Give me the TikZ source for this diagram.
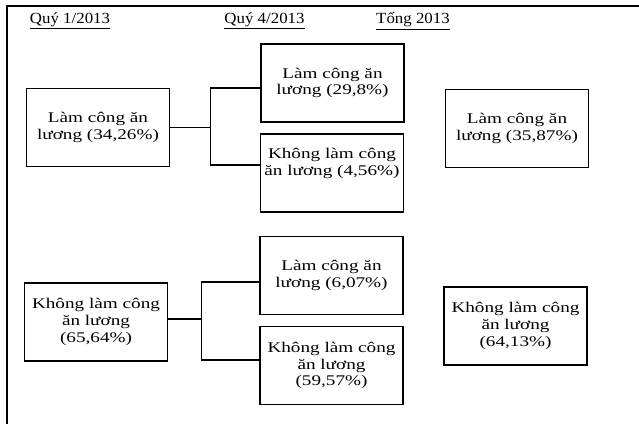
\documentclass[tikz,border=0pt]{standalone}
\usepackage{fontspec}
\setmainfont{Liberation Serif}[FakeStretch=1.3]
\newfontfamily\headfont{Liberation Serif}[FakeStretch=1.09]
\usetikzlibrary{calc}

\begin{document}
\begin{tikzpicture}[x=0.025cm, y=-0.025cm,
    box/.style={draw, line width=0.8pt, minimum width=3.575cm, minimum height=1.95cm,
        align=center, inner sep=1pt, font=\fontsize{10.5}{12}\selectfont},
    head/.style={font=\headfont\fontsize{11}{12}\selectfont},
    link/.style={line width=0.8pt}]
    \useasboundingbox (0,0) rectangle (639,424);
    % frame
    \draw[line width=1pt] (639,6) -- (7,6) -- (7,424);
    % headers
    \node[head] (h1) at (70,21) {\underline{Quý 1/2013}};
    \node[head] (h4) at (264.5,21) {\underline{Quý 4/2013}};
    \node[head] (ht) at (413,21) {\underline{Tổng 2013}};
    % upper group
    \node[box] (A1) at (98,127.5) {Làm công ăn\\lương (34,26\%)};
    \node[box] (B1) at (332.5,83) {Làm công ăn\\lương (29,8\%)};
    \node[box] (B2) at (332,173) {Không làm công\\ăn lương (4,56\%)\\\strut};
    \node[box] (C1) at (517,128.5) {Làm công ăn\\lương (35,87\%)};
    \draw[link] (A1.east) -- ++(40,0) coordinate (j1);
    \draw[link] ($(B1.west)+(0,5)$) -| (j1) |- ($(B2.west)+(0,-8)$);
    % lower group
    \node[box] (A2) at (96,322) {Không làm công\\ăn lương\\(65,64\%)};
    \node[box] (B3) at (331.5,275.5) {Làm công ăn\\lương (6,07\%)};
    \node[box] (B4) at (331.5,365.5) {Không làm công\\ăn lương\\(59,57\%)};
    \node[box] (C2) at (515.5,326) {Không làm công\\ăn lương\\(64,13\%)};
    \draw[link] ($(A2.east)+(0,-3)$) -- ++(33,0) coordinate (j2);
    \draw[link] ($(B3.west)+(0,6.5)$) -| (j2) |- ($(B4.west)+(0,-5.5)$);
\end{tikzpicture}
\end{document}
